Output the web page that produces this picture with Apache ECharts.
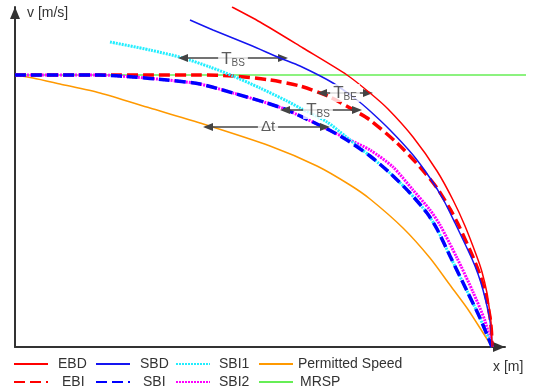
<!DOCTYPE html>
<html><head><meta charset="utf-8">
<script src="https://cdn.jsdelivr.net/npm/echarts@6/dist/echarts.min.js"></script>
<style>html,body{margin:0;padding:0;background:#fff}#c{width:547px;height:389px}</style>
</head><body><div id="c"></div><script>
// distance (x) and speed (v) in arbitrary schematic units
const ebd = [[217,340],[245,325],[288,299],[332,272],[355,254],[373,238],[398,210],[422,176],[438,147],[450,121],[462,90],[467,75],[472,54],[474.5,37],[476,25],[476.7,12],[477,0]];
const ebi = [[0,272],[85,272],[135,272],[185,272],[218,271],[255,267],[285,261],[315,250],[342,235],[355,227],[382,204],[405,180],[422,159],[435,138],[443,123],[458,90],[465,72],[470,55],[475,30],[476.5,15],[477,0]];
const sbd = [[175,327],[198,317],[235,302],[265,289],[285,281],[318,264],[342,247],[355,236],[375,217],[398,192],[415,169],[428,148],[440,124],[457,88],[463,73],[468,57],[474,32],[476,18],[477,0]];
const sbi = [[0,272],[85,272],[118,270],[152,267],[185,263],[218,254],[252,244],[272,237],[302,223],[318,215],[335,205],[355,191],[375,174],[395,154],[412,134],[422,118],[435,91],[452,56],[465,29],[477,0]];
const sbi1 = [[95,305],[135,297],[168,289],[195,280],[218,271],[245,259],[272,246],[285,239],[312,225],[330,211],[345,199],[355,191],[375,174],[395,154],[412,134],[422,118],[435,91],[452,56],[465,29],[477,0]];
const sbi2 = [[0,272],[85,272],[118,270],[152,267],[185,263],[218,254],[252,244],[272,237],[302,223],[318,215],[335,207],[355,197],[378,180],[398,157],[415,137],[425,122],[442,89],[458,55],[470,26],[477,0]];
const permitted = [[0,272],[18,269],[45,263],[85,254],[135,239],[185,224],[255,201],[302,181],[335,162],[355,148],[388,119],[415,89],[435,62],[452,39],[465,19],[477,0]];
const mrsp = [[0,272],[511,272]];
// annotation spans: [xStart, xEnd, v]
const spans = [[168,268,289],[307,353,254],[270,342,237],[193,310,220]];
// annotation labels: [x, v, main, subscript]
const annoLabels = [[218,288,'T','BS'],[330,254,'T','BE'],[303,237,'T','BS'],[253,220,'\u0394t','']];

const FONT = 'Liberation Sans, Arial, sans-serif';
const TXT = '#333';
const chart = echarts.init(document.getElementById('c'), null, {renderer:'canvas'});

function lineSeries(name, data, color, width, type, z){
  return {name, type:'line', data, symbol:'none', smooth:0.25, z,
    lineStyle:{color, width, type, cap:'butt'}, itemStyle:{color}, emphasis:{disabled:true}};
}
const legendText = {fontFamily:FONT, fontSize:14, color:TXT, lineHeight:14};
function leg(left, items){
  return {orient:'vertical', left, top:357, padding:0, itemWidth:34, itemHeight:12, itemGap:4,
    selectedMode:false, textStyle:legendText, itemStyle:{opacity:0},
    data: items.map(([n,p]) => ({name:n, textStyle:{padding:[0,0,0,p]}}))};
}
const hiddenAxis = {type:'value', show:false, splitLine:{show:false}};
const shownAxis = {type:'value', axisTick:{show:false}, axisLabel:{show:false}, splitLine:{show:false},
  axisLine:{show:true, symbol:['none','triangle'], symbolSize:[10,12], symbolOffset:[0,-6], lineStyle:{color:'#333', width:2}}};

chart.setOption({
  animation:false,
  grid:[{left:15, right:21, top:7, bottom:42}, {left:15, right:42, top:7, bottom:42}],
  xAxis:[Object.assign({gridIndex:0, min:0, max:511}, hiddenAxis), Object.assign({gridIndex:1, min:0, max:490}, shownAxis)],
  yAxis:[Object.assign({gridIndex:0, min:0, max:340}, hiddenAxis), Object.assign({gridIndex:1, min:0, max:340}, shownAxis)],
  legend:[
    leg(13, [['EBD',5],['EBI',9]]),
    leg(95, [['SBD',5],['SBI',8]]),
    leg(175, [['SBI1',4],['SBI2',4]]),
    leg(258, [['Permitted Speed',0],['MRSP',2]])
  ],
  graphic:[
    {type:'text', left:27, top:6, style:{text:'v [m/s]', font:'14px '+FONT, fill:TXT}},
    {type:'text', left:493, top:360, style:{text:'x [m]', font:'14px '+FONT, fill:TXT}}
  ],
  series:[
    lineSeries('MRSP', mrsp, '#66ee55', 1.5, 'solid', 1),
    lineSeries('Permitted Speed', permitted, '#ff9900', 1.5, 'solid', 2),
    lineSeries('EBI', ebi, '#ff0000', 3.5, [11,5], 3),
    lineSeries('SBI2', sbi2, '#ff00ff', 3, [2,1], 3),
    lineSeries('SBI1', sbi1, '#22eeff', 3, [2,1], 3),
    lineSeries('SBI', sbi, '#0000ff', 3.5, [11,5], 4),
    lineSeries('SBD', sbd, '#1515f0', 1.5, 'solid', 5),
    lineSeries('EBD', ebd, '#ff0000', 1.5, 'solid', 5),
    {name:'anno', type:'line', data:[], z:8, symbol:'none',
      markLine:{silent:true, symbol:['triangle','triangle'], symbolSize:[8,10], label:{show:false},
        lineStyle:{color:'#444', width:1.5, type:'solid'},
        data: spans.map(s => [{coord:[s[0], s[2]]},{coord:[s[1], s[2]]}])}},
    {name:'annoText', type:'scatter', data:annoLabels, symbolSize:0, z:10, silent:true,
      label:{show:true, position:'inside', backgroundColor:'#fff', padding:[0,3],
        formatter: p => p.data[3] ? '{a|' + p.data[2] + '}{b|' + p.data[3] + '}' : '{c|' + p.data[2] + '}',
        rich:{
          a:{fontFamily:FONT, fontSize:17, color:TXT, lineHeight:18},
          b:{fontFamily:FONT, fontSize:10, color:TXT, lineHeight:18, verticalAlign:'bottom', padding:[7,0,0,0]},
          c:{fontFamily:FONT, fontSize:15, color:TXT, lineHeight:16}
        }}}
  ]
});
</script></body></html>
